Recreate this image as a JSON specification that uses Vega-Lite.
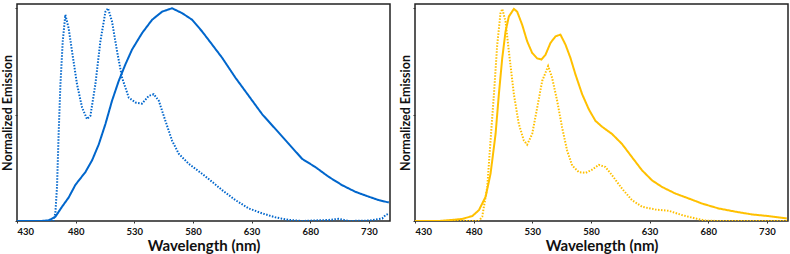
{
  "$schema": "https://vega.github.io/schema/vega-lite/v6.json",
  "padding": {"left": 0, "top": 3, "right": 3, "bottom": 0},
  "background": "white",
  "spacing": 7,
  "config": {
    "view": {"stroke": "#222", "strokeWidth": 1.5},
    "font": "Lato",
    "axis": {"grid": false, "domain": false, "tickColor": "#333", "tickSize": 2, "labelFont": "Lato", "titleFont": "Lato", "labelColor": "#111", "titleColor": "#111"}
  },
  "datasets": {
    "blue": [
      {"s":"solid","nm":430,"v":0},{"s":"solid","nm":450,"v":0},{"s":"solid","nm":457,"v":0.003},{"s":"solid","nm":462.7,"v":0.02},{"s":"solid","nm":468.4,"v":0.067},{"s":"solid","nm":474,"v":0.11},{"s":"solid","nm":479.8,"v":0.17},{"s":"solid","nm":488.3,"v":0.23},{"s":"solid","nm":494,"v":0.285},{"s":"solid","nm":499.7,"v":0.36},{"s":"solid","nm":505.4,"v":0.456},{"s":"solid","nm":511,"v":0.565},{"s":"solid","nm":516.7,"v":0.658},{"s":"solid","nm":522.4,"v":0.736},{"s":"solid","nm":528.1,"v":0.806},{"s":"solid","nm":536.6,"v":0.883},{"s":"solid","nm":545.2,"v":0.946},{"s":"solid","nm":553.7,"v":0.984},{"s":"solid","nm":562.2,"v":1.0},{"s":"solid","nm":570.8,"v":0.977},{"s":"solid","nm":579.3,"v":0.946},{"s":"solid","nm":587.8,"v":0.891},{"s":"solid","nm":596.4,"v":0.829},{"s":"solid","nm":604.9,"v":0.767},{"s":"solid","nm":616.3,"v":0.673},{"s":"solid","nm":627.6,"v":0.588},{"s":"solid","nm":639,"v":0.502},{"s":"solid","nm":650.4,"v":0.432},{"s":"solid","nm":661.8,"v":0.362},{"s":"solid","nm":673.1,"v":0.292},{"s":"solid","nm":684.5,"v":0.253},{"s":"solid","nm":695.9,"v":0.207},{"s":"solid","nm":707.3,"v":0.168},{"s":"solid","nm":718.6,"v":0.137},{"s":"solid","nm":730,"v":0.114},{"s":"solid","nm":738.5,"v":0.098},{"s":"solid","nm":747,"v":0.087},
      {"s":"dotted","nm":430,"v":0},{"s":"dotted","nm":461,"v":0},{"s":"dotted","nm":462.7,"v":0.036},{"s":"dotted","nm":464.1,"v":0.16},{"s":"dotted","nm":465.5,"v":0.41},{"s":"dotted","nm":467,"v":0.64},{"s":"dotted","nm":469,"v":0.845},{"s":"dotted","nm":471.2,"v":0.969},{"s":"dotted","nm":474,"v":0.907},{"s":"dotted","nm":476.9,"v":0.798},{"s":"dotted","nm":481.2,"v":0.642},{"s":"dotted","nm":485.5,"v":0.533},{"s":"dotted","nm":489.7,"v":0.479},{"s":"dotted","nm":492.6,"v":0.495},{"s":"dotted","nm":496.8,"v":0.642},{"s":"dotted","nm":501.1,"v":0.845},{"s":"dotted","nm":505.4,"v":0.984},{"s":"dotted","nm":507.6,"v":1.0},{"s":"dotted","nm":511,"v":0.938},{"s":"dotted","nm":515.3,"v":0.798},{"s":"dotted","nm":519.6,"v":0.673},{"s":"dotted","nm":525.3,"v":0.58},{"s":"dotted","nm":531,"v":0.557},{"s":"dotted","nm":536.6,"v":0.552},{"s":"dotted","nm":542.3,"v":0.588},{"s":"dotted","nm":546.6,"v":0.596},{"s":"dotted","nm":550.9,"v":0.565},{"s":"dotted","nm":556.5,"v":0.471},{"s":"dotted","nm":562.2,"v":0.378},{"s":"dotted","nm":567.9,"v":0.316},{"s":"dotted","nm":576.4,"v":0.269},{"s":"dotted","nm":587.8,"v":0.222},{"s":"dotted","nm":596.4,"v":0.184},{"s":"dotted","nm":604.9,"v":0.145},{"s":"dotted","nm":616.3,"v":0.098},{"s":"dotted","nm":627.6,"v":0.059},{"s":"dotted","nm":639,"v":0.036},{"s":"dotted","nm":650.4,"v":0.017},{"s":"dotted","nm":661.8,"v":0.005},{"s":"dotted","nm":673,"v":0},{"s":"dotted","nm":696,"v":0.005},{"s":"dotted","nm":704.4,"v":0.01},{"s":"dotted","nm":713,"v":0},{"s":"dotted","nm":730,"v":0.002},{"s":"dotted","nm":741.4,"v":0.012},{"s":"dotted","nm":744.2,"v":0.028},{"s":"dotted","nm":746.5,"v":0.033}
    ],
    "gold": [
      {"s":"solid","nm":430,"v":0},{"s":"solid","nm":450,"v":0},{"s":"solid","nm":461.8,"v":0.005},{"s":"solid","nm":470.3,"v":0.01},{"s":"solid","nm":478.8,"v":0.023},{"s":"solid","nm":484.5,"v":0.051},{"s":"solid","nm":490.2,"v":0.114},{"s":"solid","nm":494.4,"v":0.222},{"s":"solid","nm":498.7,"v":0.409},{"s":"solid","nm":501.5,"v":0.596},{"s":"solid","nm":504.4,"v":0.767},{"s":"solid","nm":507.2,"v":0.891},{"s":"solid","nm":510,"v":0.961},{"s":"solid","nm":514.3,"v":0.997},{"s":"solid","nm":517.1,"v":0.984},{"s":"solid","nm":521.4,"v":0.922},{"s":"solid","nm":525.6,"v":0.845},{"s":"solid","nm":529.9,"v":0.79},{"s":"solid","nm":534.2,"v":0.764},{"s":"solid","nm":537.8,"v":0.759},{"s":"solid","nm":541.3,"v":0.782},{"s":"solid","nm":545.5,"v":0.837},{"s":"solid","nm":549.8,"v":0.868},{"s":"solid","nm":554,"v":0.876},{"s":"solid","nm":558.3,"v":0.829},{"s":"solid","nm":562.5,"v":0.767},{"s":"solid","nm":566.8,"v":0.689},{"s":"solid","nm":572.5,"v":0.596},{"s":"solid","nm":578.1,"v":0.526},{"s":"solid","nm":583.8,"v":0.471},{"s":"solid","nm":589.5,"v":0.443},{"s":"solid","nm":598,"v":0.409},{"s":"solid","nm":606.5,"v":0.362},{"s":"solid","nm":615,"v":0.3},{"s":"solid","nm":623.6,"v":0.238},{"s":"solid","nm":632.1,"v":0.191},{"s":"solid","nm":640.6,"v":0.16},{"s":"solid","nm":652,"v":0.129},{"s":"solid","nm":663.3,"v":0.106},{"s":"solid","nm":674.7,"v":0.082},{"s":"solid","nm":688.8,"v":0.059},{"s":"solid","nm":703,"v":0.044},{"s":"solid","nm":717.2,"v":0.031},{"s":"solid","nm":731.4,"v":0.023},{"s":"solid","nm":747,"v":0.012},
      {"s":"dotted","nm":430,"v":0},{"s":"dotted","nm":484.5,"v":0},{"s":"dotted","nm":487.3,"v":0.02},{"s":"dotted","nm":491.6,"v":0.16},{"s":"dotted","nm":494.4,"v":0.378},{"s":"dotted","nm":497.3,"v":0.596},{"s":"dotted","nm":500.1,"v":0.829},{"s":"dotted","nm":502.9,"v":0.977},{"s":"dotted","nm":504.4,"v":0.997},{"s":"dotted","nm":507.2,"v":0.938},{"s":"dotted","nm":510,"v":0.798},{"s":"dotted","nm":514.3,"v":0.596},{"s":"dotted","nm":518.5,"v":0.456},{"s":"dotted","nm":522.8,"v":0.378},{"s":"dotted","nm":525.6,"v":0.359},{"s":"dotted","nm":529.9,"v":0.409},{"s":"dotted","nm":534.2,"v":0.533},{"s":"dotted","nm":538.4,"v":0.658},{"s":"dotted","nm":543.5,"v":0.728},{"s":"dotted","nm":546.9,"v":0.673},{"s":"dotted","nm":551.2,"v":0.565},{"s":"dotted","nm":555.4,"v":0.44},{"s":"dotted","nm":559.7,"v":0.331},{"s":"dotted","nm":564,"v":0.261},{"s":"dotted","nm":569.6,"v":0.23},{"s":"dotted","nm":575.3,"v":0.226},{"s":"dotted","nm":581,"v":0.241},{"s":"dotted","nm":586.7,"v":0.264},{"s":"dotted","nm":592.3,"v":0.254},{"s":"dotted","nm":598,"v":0.215},{"s":"dotted","nm":606.5,"v":0.152},{"s":"dotted","nm":615,"v":0.098},{"s":"dotted","nm":623.6,"v":0.067},{"s":"dotted","nm":634.9,"v":0.054},{"s":"dotted","nm":646.3,"v":0.048},{"s":"dotted","nm":657.6,"v":0.028},{"s":"dotted","nm":669,"v":0.012},{"s":"dotted","nm":677.5,"v":0.002},{"s":"dotted","nm":688.8,"v":0},{"s":"dotted","nm":748,"v":0}
    ]
  },
  "hconcat": [
    {
      "width": 373, "height": 217,
      "data": {"name": "blue"},
      "mark": {"type": "line", "color": "#0066CC", "strokeWidth": 2, "clip": true},
      "encoding": {
        "x": {"field": "nm", "type": "quantitative", "scale": {"domain": [430, 748], "nice": false, "zero": false},
          "axis": {"values": [430,480,530,580,630,680,730], "title": "Wavelength (nm)", "labelFontSize": 9.5, "labelFontWeight": "bold", "titleFontSize": 15, "titleFontWeight": "bold", "labelPadding": 3, "titlePadding": 3}},
        "y": {"field": "v", "type": "quantitative", "scale": {"domain": [0, 1.02], "nice": false},
          "axis": {"values": [0, 0.5, 1], "labels": false, "title": "Normalized Emission", "titleFontSize": 12.5, "titleFontWeight": "bold", "titlePadding": 0}},
        "detail": {"field": "s"},
        "strokeDash": {"field": "s", "type": "nominal", "scale": {"domain": ["solid", "dotted"], "range": [[1, 0], [1.5, 1.5]]}, "legend": null}
      }
    },
    {
      "width": 373, "height": 217,
      "data": {"name": "gold"},
      "mark": {"type": "line", "color": "#FFC000", "strokeWidth": 2, "clip": true},
      "encoding": {
        "x": {"field": "nm", "type": "quantitative", "scale": {"domain": [430, 748], "nice": false, "zero": false},
          "axis": {"values": [430,480,530,580,630,680,730], "title": "Wavelength (nm)", "labelFontSize": 9.5, "labelFontWeight": "bold", "titleFontSize": 15, "titleFontWeight": "bold", "labelPadding": 3, "titlePadding": 3}},
        "y": {"field": "v", "type": "quantitative", "scale": {"domain": [0, 1.02], "nice": false},
          "axis": {"values": [0, 0.5, 1], "labels": false, "title": "Normalized Emission", "titleFontSize": 12.5, "titleFontWeight": "bold", "titlePadding": 0}},
        "detail": {"field": "s"},
        "strokeDash": {"field": "s", "type": "nominal", "scale": {"domain": ["solid", "dotted"], "range": [[1, 0], [1.5, 1.5]]}, "legend": null}
      }
    }
  ]
}
